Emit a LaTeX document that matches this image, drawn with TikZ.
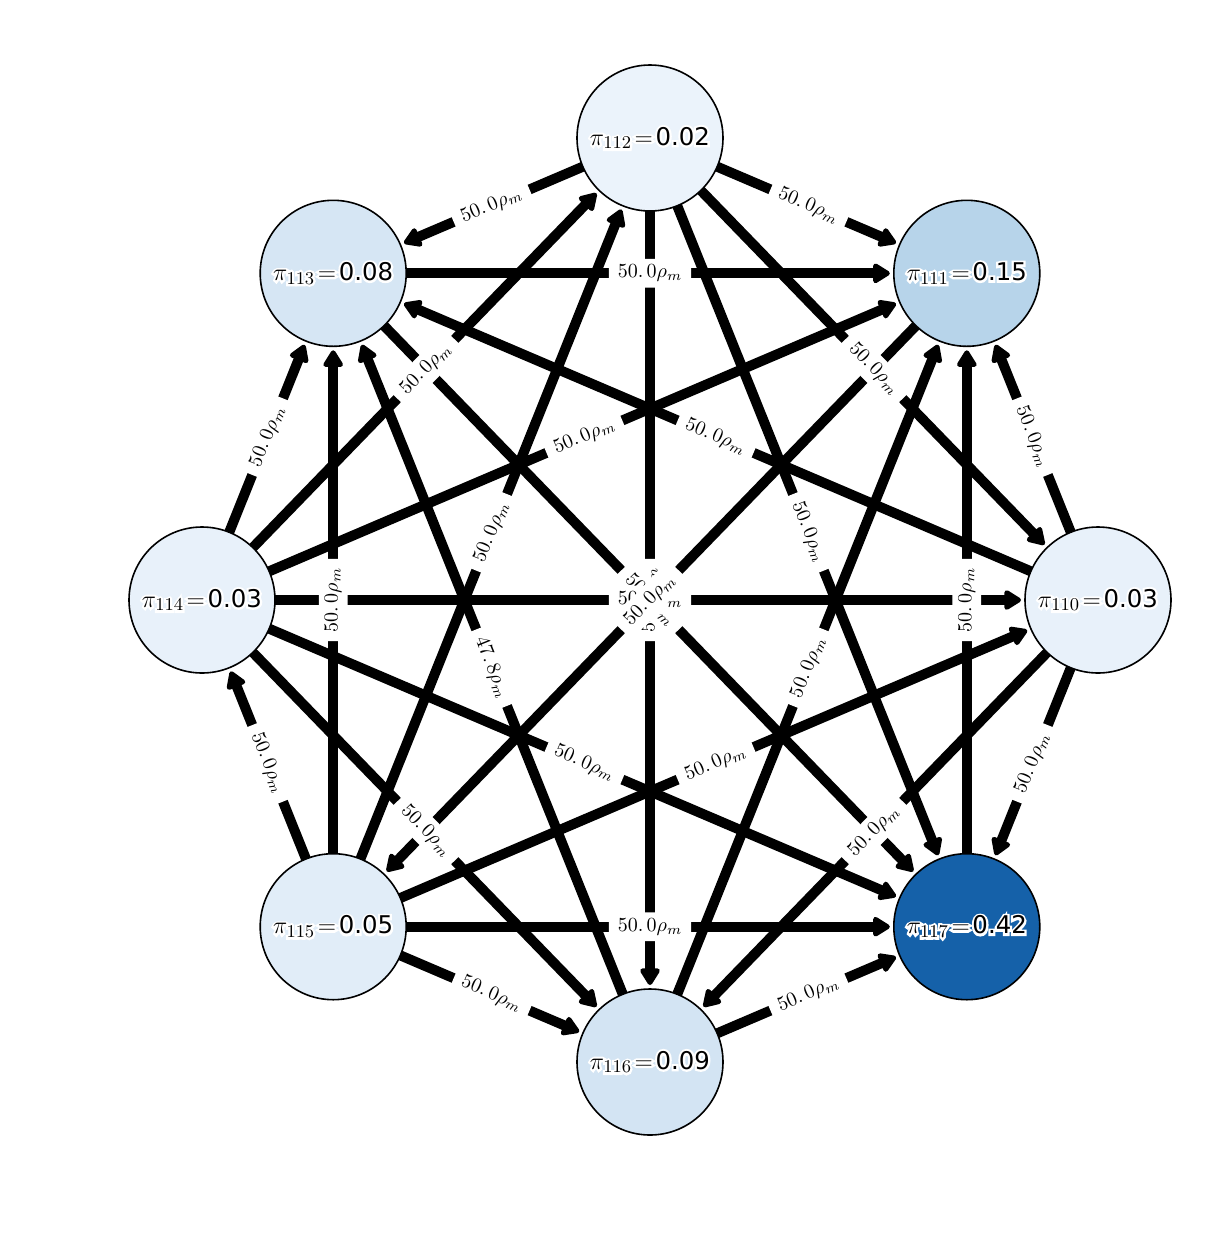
\documentclass[tikz,border=0pt]{standalone}
\usepackage{fontspec}
\newfontfamily\dejavu{DejaVu Sans}
\usetikzlibrary{arrows.meta}
\definecolor{c110}{HTML}{E8F1FA}
\definecolor{c111}{HTML}{B7D4EA}
\definecolor{c112}{HTML}{EBF3FB}
\definecolor{c113}{HTML}{D6E6F4}
\definecolor{c114}{HTML}{E8F1FA}
\definecolor{c115}{HTML}{E1EDF8}
\definecolor{c116}{HTML}{D3E4F3}
\definecolor{c117}{HTML}{1561A9}
\pgfdeclarelayer{edgelayer}
\pgfsetlayers{edgelayer,main}
\newcommand{\ptextraw}[2]{{\fontsize{13}{16}\selectfont$\pi_{#1}\mskip2mu\mathord{=}\mskip2mu$}{\dejavu\fontsize{12.2}{15}\selectfont #2}}
\newcommand{\halo}[1]{\special{pdf:literal direct 2 Tr 2.2 w}#1\special{pdf:literal direct 0 Tr}}
\newcommand{\ptext}[2]{\makebox[0pt][l]{\color{white}\halo{\ptextraw{#1}{#2}}}\ptextraw{#1}{#2}}
\begin{document}
\begin{tikzpicture}[x=0.5pt,y=-0.5pt,
  state/.style={circle, draw=black, line width=0.8pt, minimum size=73pt, inner sep=0pt, outer sep=0pt},
  edge/.style={line width=5pt, shorten >=2pt, -{Triangle[length=9.5pt,width=11pt,round]}},
  elabel/.style={fill=white, inner xsep=4.5pt, inner ysep=3pt, rounded corners=2pt, font=\fontsize{10}{12}\selectfont}
]
\useasboundingbox (0,0) rectangle (1232,1233);
\node[state, fill=c110] (n110) at (1098,600) {\ptext{110}{0.03}};
\node[state, fill=c111] (n111) at (966.8,273.3) {\ptext{111}{0.15}};
\node[state, fill=c112] (n112) at (650,138) {\ptext{112}{0.02}};
\node[state, fill=c113] (n113) at (333.2,273.3) {\ptext{113}{0.08}};
\node[state, fill=c114] (n114) at (202,600) {\ptext{114}{0.03}};
\node[state, fill=c115] (n115) at (333.2,926.7) {\ptext{115}{0.05}};
\node[state, fill=c116] (n116) at (650,1062) {\ptext{116}{0.09}};
\node[state, fill=c117] (n117) at (966.8,926.7) {\ptext{117}{0.42}};
\begin{pgfonlayer}{edgelayer}
\foreach \a/\b in {112/113,112/111,112/110,112/117,112/116,115/112,114/112,
  113/111,110/113,113/117,116/113,115/113,114/113,114/111,114/110,114/117,
  114/116,115/114,111/115,115/110,115/117,115/116,110/116,116/117,116/111,
  110/111,117/111,110/117}
  \draw[edge] (n\a) -- (n\b);
\end{pgfonlayer}
\foreach \a/\b/\r/\v in {112/113/23.1/{50.\,0},112/111/-23.1/{50.\,0},112/110/-45.9/{50.\,0},
  112/117/-68.1/{50.\,0},112/116/90/{50.\,0},115/112/68.1/{50.\,0},114/112/45.9/{50.\,0},
  113/111/0/{50.\,0},110/113/-23.1/{50.\,0},113/117/-45.9/{50.\,0},116/113/-68.1/{47.\,8},
  115/113/90/{50.\,0},114/113/68.1/{50.\,0},114/111/23.1/{50.\,0},114/110/0/{50.\,0},
  114/117/-23.1/{50.\,0},114/116/-45.9/{50.\,0},115/114/-68.1/{50.\,0},111/115/45.9/{50.\,0},
  115/110/23.1/{50.\,0},115/117/0/{50.\,0},115/116/-23.1/{50.\,0},110/116/45.9/{50.\,0},
  116/117/23.1/{50.\,0},116/111/68.1/{50.\,0},110/111/-68.1/{50.\,0},117/111/90/{50.\,0},
  110/117/68.1/{50.\,0}}
  \path (n\a) -- node[elabel, rotate=\r] {$\v\rho_m$} (n\b);
\end{tikzpicture}
\end{document}
